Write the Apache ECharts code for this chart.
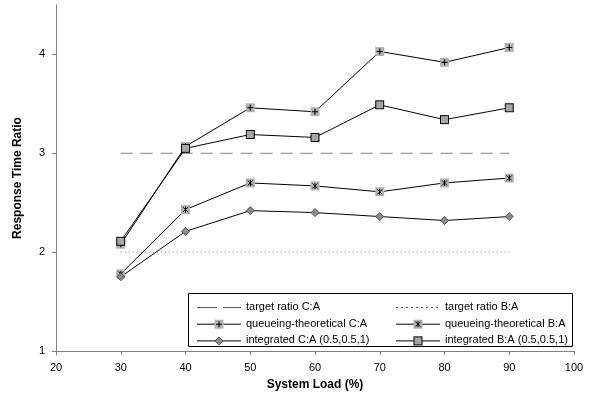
<!DOCTYPE html>
<html><head><meta charset="utf-8">
<script src="https://cdn.jsdelivr.net/npm/echarts@6/dist/echarts.min.js"></script>
<style>html,body{margin:0;padding:0;background:#fff}#c{width:595px;height:404px}</style>
</head><body><div id="c"></div>
<script>
const loads = [30, 40, 50, 60, 70, 80, 90];
const targetCA = [3, 3, 3, 3, 3, 3, 3];
const targetBA = [2, 2, 2, 2, 2, 2, 2];
const queueCA = [2.08, 3.07, 3.46, 3.42, 4.03, 3.92, 4.07];
const queueBA = [1.78, 2.43, 2.70, 2.67, 2.61, 2.70, 2.75];
const integCA = [1.75, 2.21, 2.42, 2.40, 2.36, 2.32, 2.36];
const integBA = [2.11, 3.05, 3.19, 3.16, 3.49, 3.34, 3.46];
const xTicks = [20, 30, 40, 50, 60, 70, 80, 90, 100];
const yTicks = [1, 2, 3, 4];
const names = ['target ratio C:A', 'target ratio B:A', 'queueing-theoretical C:A', 'queueing-theoretical B:A', 'integrated C:A (0.5,0.5,1)', 'integrated B:A (0.5,0.5,1)'];

function img(w, h, body){return 'image://data:image/svg+xml;charset=utf-8,' + encodeURIComponent("<svg xmlns='http://www.w3.org/2000/svg' width='"+w+"' height='"+h+"' viewBox='0 0 "+w+" "+h+"'>" + body + "</svg>");}
const mPlus = "<rect x='-4.5' y='-4.5' width='9' height='9' fill='#b2b2b2'/><path d='M0 -3V3M-3 0H3' stroke='#000' stroke-width='1.1'/>";
const mStar = "<rect x='-4.5' y='-4.5' width='9' height='9' fill='#b2b2b2'/><path d='M-2.5 -2.5L2.5 2.5M2.5 -2.5L-2.5 2.5M0 -3V3' stroke='#000' stroke-width='1'/>";
const mDiamond = "<path d='M0 -4L4 0L0 4L-4 0Z' fill='#8c8c8c' stroke='#444' stroke-width='0.9'/>";
const mSquare = "<rect x='-4' y='-4' width='8' height='8' fill='#a6a6a6' stroke='#000' stroke-width='1'/>";
const sym = m => img(10, 10, "<g transform='translate(5,5)'>" + m + "</g>");
const leg = (m, line) => img(44, 12, (line || "<path d='M0 6.5H44' stroke='#000' stroke-width='1'/>") + (m ? "<g transform='translate(22,6.5)'>" + m + "</g>" : ""));
const legIcons = [
  leg(null, "<path d='M0 6.5H44' stroke='#555' stroke-width='1' stroke-dasharray='20 6'/>"),
  leg(null, "<path d='M0 6.5H44' stroke='#555' stroke-width='1' stroke-dasharray='2 3'/>"),
  leg(mPlus), leg(mStar), leg(mDiamond), leg(mSquare)
];

const pair = arr => loads.map((x, i) => [x, arr[i]]);
function lineSeries(name, data, m, ls){
  return {name, type:'line', data:pair(data), symbol: m ? sym(m) : 'none', symbolSize: 10, showSymbol: !!m,
    lineStyle: Object.assign({color:'#000', width:1}, ls||{}), itemStyle:{color:'#000'}, animation:false, z: 3};
}
const chart = echarts.init(document.getElementById('c'));
const tf = {fontFamily:'Liberation Sans, Arial, sans-serif', color:'#000'};
const legendBase = {orient:'vertical', top:296, itemWidth:44, itemHeight:12, itemGap:4.7,
  textStyle:Object.assign({fontSize:11, lineHeight:12}, tf)};
chart.setOption({
  animation:false,
  grid:{left:56, right:21, top:5, bottom:53},
  xAxis:{type:'value', min:20, max:100, interval:10,
    name:'System Load (%)', nameLocation:'middle', nameGap:28,
    nameTextStyle:Object.assign({fontSize:12, fontWeight:'bold'}, tf),
    axisLine:{lineStyle:{color:'#808080'}}, axisTick:{inside:false, length:4, lineStyle:{color:'#808080'}},
    axisLabel:Object.assign({fontSize:11, margin:11, customValues:xTicks}, tf), splitLine:{show:false}},
  yAxis:{type:'value', min:1, max:4.5, interval:1,
    name:'Response Time Ratio', nameLocation:'middle', nameGap:32,
    nameTextStyle:Object.assign({fontSize:12, fontWeight:'bold'}, tf),
    axisLine:{show:true, lineStyle:{color:'#808080'}}, axisTick:{show:true, length:4, customValues:yTicks, lineStyle:{color:'#808080'}},
    axisLabel:Object.assign({fontSize:11, margin:11, customValues:yTicks}, tf), splitLine:{show:false}},
  legend:[
    Object.assign({left:192, data:[0,2,4].map(i => ({name:names[i], icon:legIcons[i]}))}, legendBase),
    Object.assign({left:391, data:[1,3,5].map(i => ({name:names[i], icon:legIcons[i]}))}, legendBase)
  ],
  graphic:[{type:'rect', shape:{x:188.5, y:293.5, width:384, height:53}, style:{fill:'none', stroke:'#000', lineWidth:1}, z:-1}],
  series:[
    lineSeries(names[0], targetCA, null, {color:'#808080', type:[12,8]}),
    lineSeries(names[1], targetBA, null, {color:'#808080', type:[1,3]}),
    lineSeries(names[2], queueCA, mPlus),
    lineSeries(names[3], queueBA, mStar),
    lineSeries(names[4], integCA, mDiamond),
    lineSeries(names[5], integBA, mSquare)
  ]
});
</script></body></html>
